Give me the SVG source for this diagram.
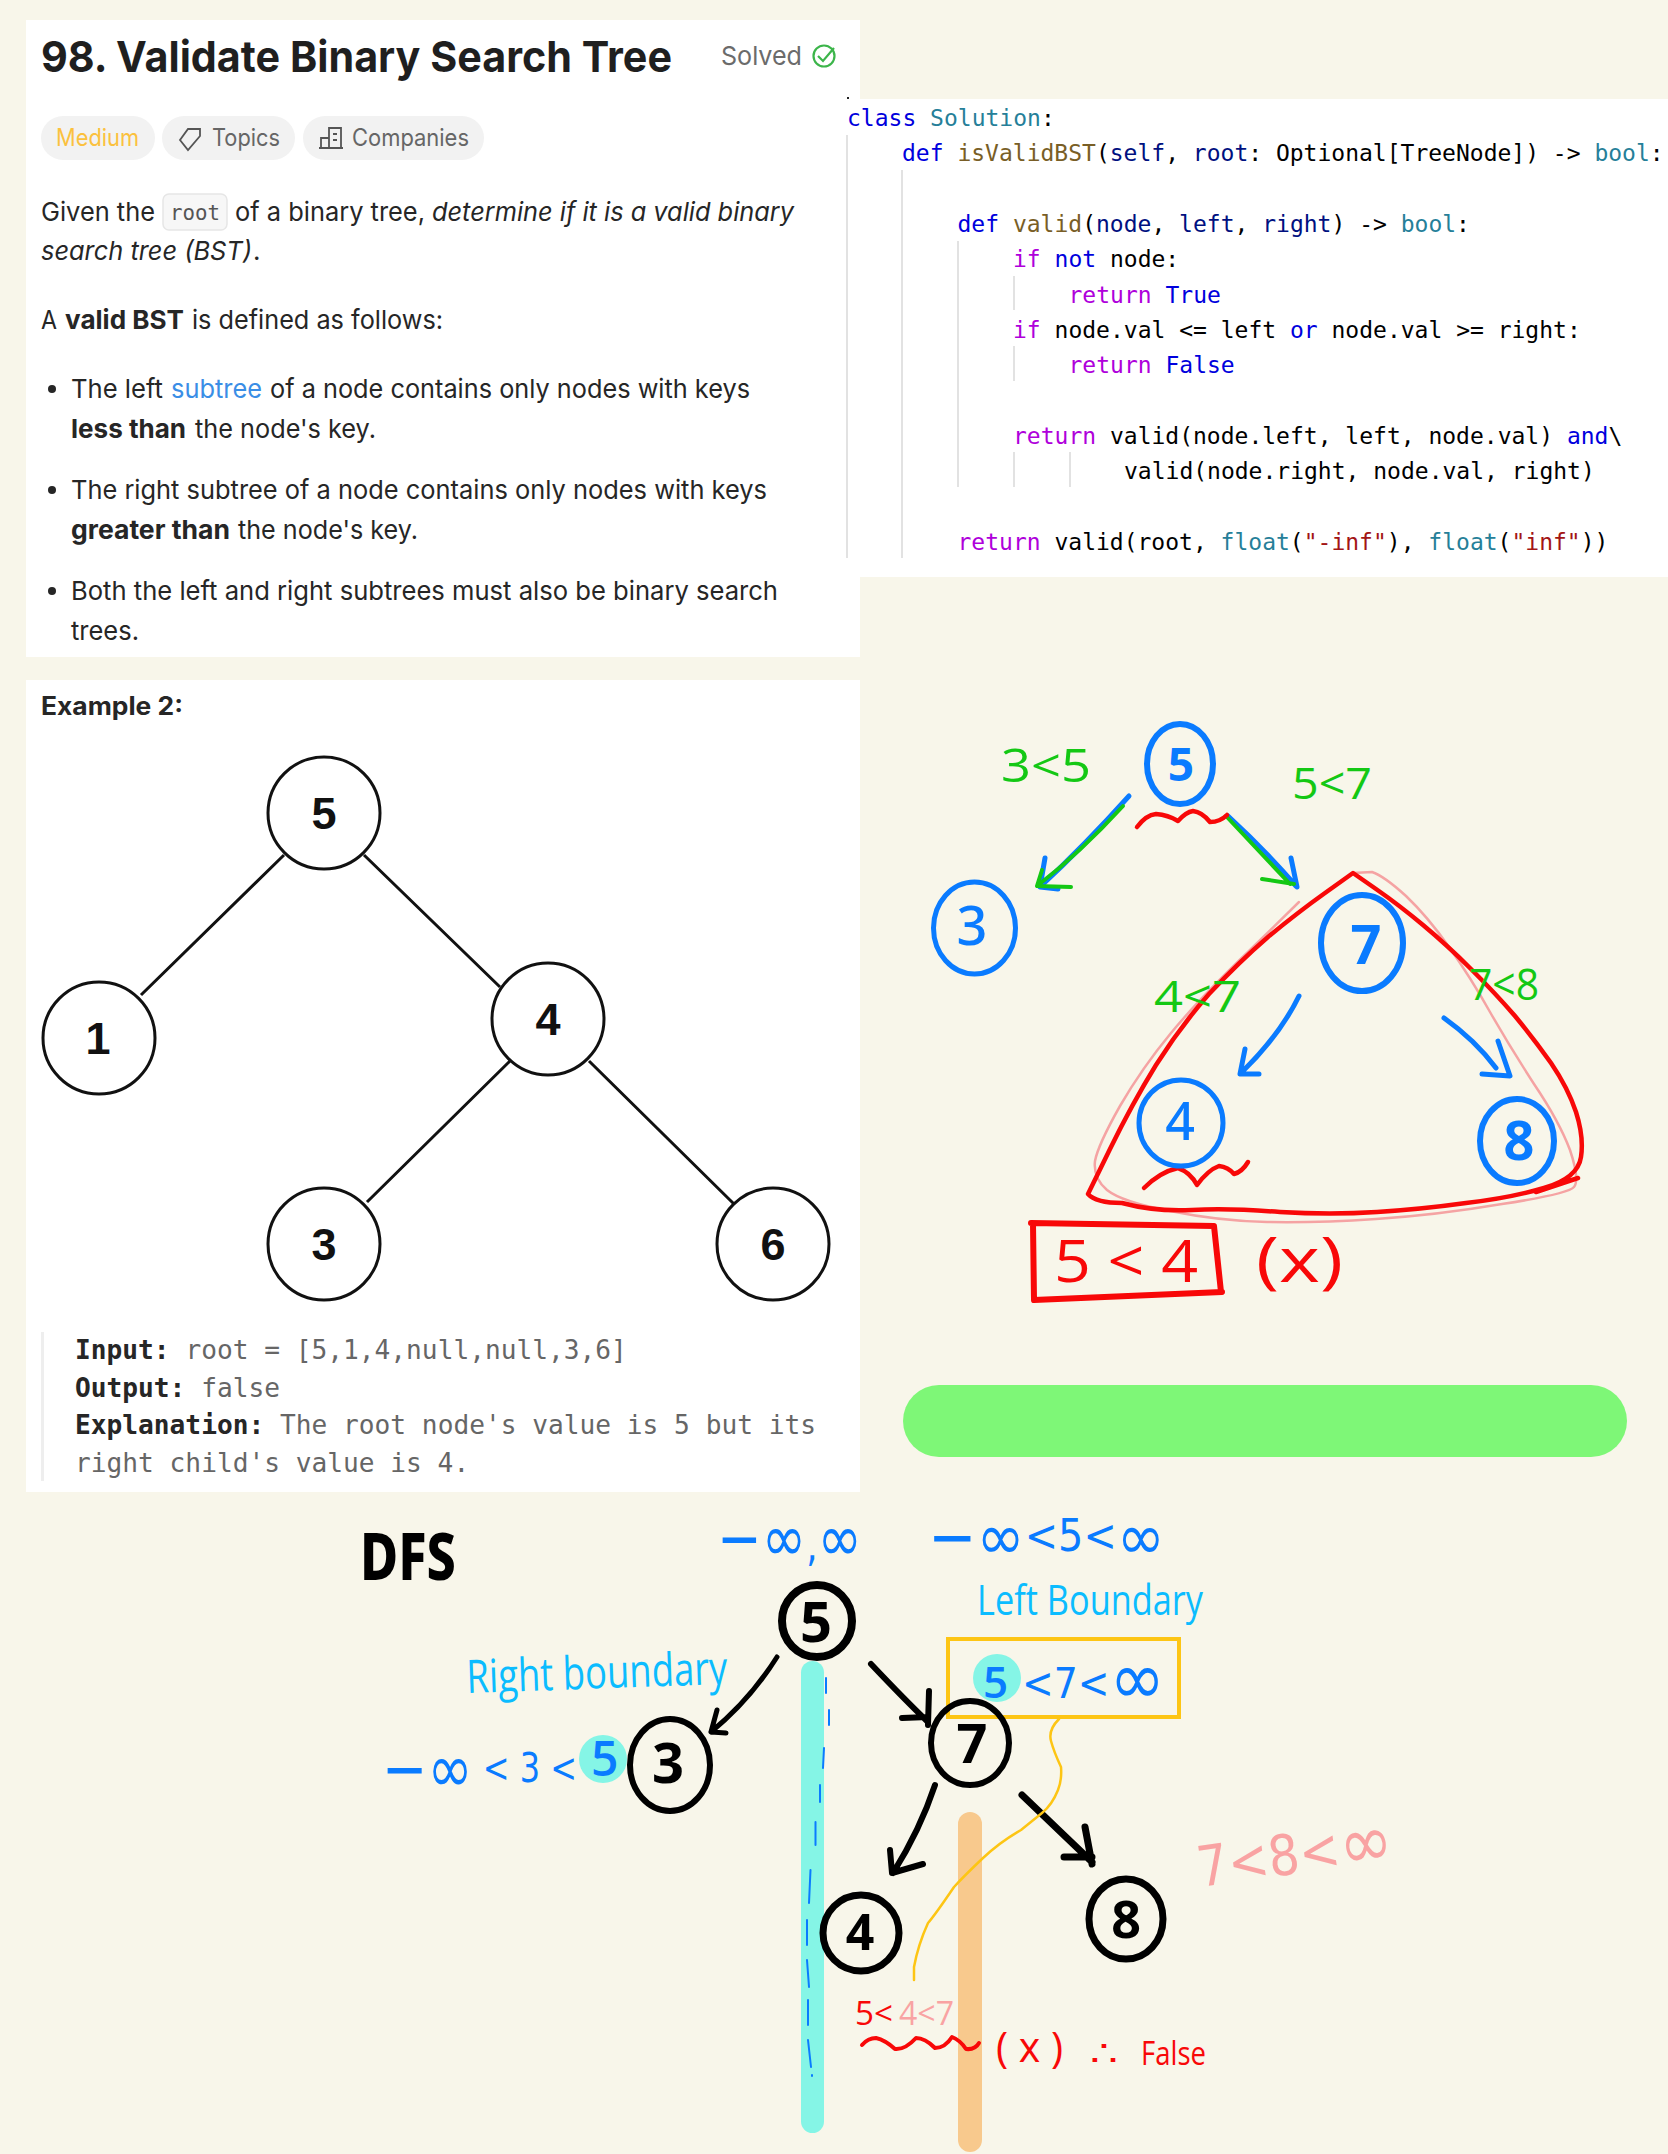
<svg xmlns="http://www.w3.org/2000/svg" width="1668" height="2154" viewBox="0 0 1668 2154">
<style>
.b{font-family:"Inter","Liberation Sans",sans-serif;font-size:26px;fill:#262626}
.bb{font-weight:700}
.i{font-style:italic}
.m{font-family:"DejaVu Sans Mono","Liberation Mono",monospace}
.ex{font-size:26.2px;fill:#666}
.exb{font-weight:700;fill:#262626}
.c{font-size:23px;fill:#000}
.k{fill:#0000dd}.t{fill:#267f99}.f{fill:#795e26}.r{fill:#af00db}.p{fill:#001080}.s{fill:#a31515}
.g{stroke:#d9d9d9;stroke-width:1.5;fill:none}
.tn{fill:#fff;stroke:#111;stroke-width:3}
.te{stroke:#111;stroke-width:3}
.tt{font-family:"Liberation Sans",sans-serif;font-weight:700;font-size:45px;fill:#111;text-anchor:middle}
.h{font-family:"Open Sans","Noto Sans",sans-serif}
.hb{font-family:"Noto Sans","Open Sans",sans-serif;font-weight:700;text-anchor:middle}
.ink{fill:none;stroke-linecap:round;stroke-linejoin:round}
.blue{stroke:#0a7bff}.green{stroke:#14c814}.red{stroke:#f80808}.black{stroke:#000}
.fb{fill:#0a7bff}.fg{fill:#14c814}.fr{fill:#f80808}.fk{fill:#000}.fc{fill:#0bbcff}.fp{fill:#f9a3a3}
</style>
<rect width="1668" height="2154" fill="#f8f6ea"/>

<g id="problem-panel">
<rect x="26" y="20" width="834" height="637" fill="#fff"/>
<text x="41" y="72" font-family="Inter,'Liberation Sans',sans-serif" font-weight="700" font-size="43" fill="#1f1f1f" textLength="631" lengthAdjust="spacingAndGlyphs">98. Validate Binary Search Tree</text>
<text x="721" y="65" font-family="Inter,'Liberation Sans',sans-serif" font-size="26" fill="#6b6b6b" textLength="81" lengthAdjust="spacingAndGlyphs">Solved</text>
<circle cx="824" cy="56" r="10.5" fill="none" stroke="#3cb54a" stroke-width="2.2"/>
<path d="M818 56l5 5 11-13" fill="none" stroke="#3cb54a" stroke-width="2.2"/>
<rect x="41" y="116" width="114" height="44" rx="22" fill="#f2f2f2"/>
<rect x="162" y="116" width="133" height="44" rx="22" fill="#f2f2f2"/>
<rect x="303" y="116" width="181" height="44" rx="22" fill="#f2f2f2"/>
<text x="56" y="146" font-family="Inter,'Liberation Sans',sans-serif" font-size="24" fill="#fbc13e" textLength="83" lengthAdjust="spacingAndGlyphs">Medium</text>
<path d="M200 129L188 129L180 140L188 150L200 136Z" fill="none" stroke="#555" stroke-width="1.8"/>
<text x="212" y="146" font-family="Inter,'Liberation Sans',sans-serif" font-size="24" fill="#666" textLength="68" lengthAdjust="spacingAndGlyphs">Topics</text>
<path d="M329 148V128H341V148M321 148V138H329M319 148H343M333 134h4M333 140h4" fill="none" stroke="#555" stroke-width="1.8"/>
<text x="352" y="146" font-family="Inter,'Liberation Sans',sans-serif" font-size="24" fill="#666" textLength="117" lengthAdjust="spacingAndGlyphs">Companies</text>
<text class="b" x="41" y="221" textLength="114" lengthAdjust="spacingAndGlyphs">Given the</text>
<rect x="163" y="194" width="64" height="36" rx="6" fill="#f7f7f7" stroke="#e6e6e6" stroke-width="1.5"/>
<text class="m" x="170" y="220" font-size="22" fill="#555" textLength="50" lengthAdjust="spacingAndGlyphs">root</text>
<text class="b" x="235" y="221" textLength="190" lengthAdjust="spacingAndGlyphs">of a binary tree,</text>
<text class="b i" x="432" y="221" textLength="362" lengthAdjust="spacingAndGlyphs">determine if it is a valid binary</text>
<text class="b i" x="41" y="260" textLength="211" lengthAdjust="spacingAndGlyphs">search tree (BST)</text>
<text class="b" x="253" y="260">.</text>
<text class="b" x="41" y="329" textLength="16" lengthAdjust="spacingAndGlyphs">A</text>
<text class="b bb" x="65" y="329" textLength="119" lengthAdjust="spacingAndGlyphs">valid BST</text>
<text class="b" x="192" y="329" textLength="251" lengthAdjust="spacingAndGlyphs">is defined as follows:</text>
<circle cx="52" cy="389" r="4" fill="#262626"/>
<text class="b" x="71" y="398" textLength="92" lengthAdjust="spacingAndGlyphs">The left</text>
<text class="b" x="171" y="398" style="fill:#3a8ee6" textLength="91" lengthAdjust="spacingAndGlyphs">subtree</text>
<text class="b" x="270" y="398" textLength="480" lengthAdjust="spacingAndGlyphs">of a node contains only nodes with keys</text>
<text class="b bb" x="71" y="438" textLength="115" lengthAdjust="spacingAndGlyphs">less than</text>
<text class="b" x="195" y="438" textLength="181" lengthAdjust="spacingAndGlyphs">the node's key.</text>
<circle cx="52" cy="490" r="4" fill="#262626"/>
<text class="b" x="71" y="499" textLength="696" lengthAdjust="spacingAndGlyphs">The right subtree of a node contains only nodes with keys</text>
<text class="b bb" x="71" y="539" textLength="159" lengthAdjust="spacingAndGlyphs">greater than</text>
<text class="b" x="238" y="539" textLength="180" lengthAdjust="spacingAndGlyphs">the node's key.</text>
<circle cx="52" cy="591" r="4" fill="#262626"/>
<text class="b" x="71" y="600" textLength="707" lengthAdjust="spacingAndGlyphs">Both the left and right subtrees must also be binary search</text>
<text class="b" x="71" y="640" textLength="68" lengthAdjust="spacingAndGlyphs">trees.</text>
</g>

<g id="code-panel">
<rect x="846" y="99" width="822" height="478" fill="#fff"/>
<rect x="847" y="97" width="2" height="2" fill="#222"/>
<path class="g" d="M847 135V558M902 170V558M958 241V487M1014 276V310M1014 346V381M1014 452V487M1070 452V487"/>
<g class="m c" xml:space="preserve">
<text x="847" y="125.5" class="m c"><tspan class="k">class</tspan> <tspan class="t">Solution</tspan>:</text>
<text x="902" y="161" class="m c"><tspan class="k">def</tspan> <tspan class="f">isValidBST</tspan>(<tspan class="p">self</tspan>, <tspan class="p">root</tspan>: Optional[TreeNode]) -&gt; <tspan class="t">bool</tspan>:</text>
<text x="957.5" y="232" class="m c"><tspan class="k">def</tspan> <tspan class="f">valid</tspan>(<tspan class="p">node</tspan>, <tspan class="p">left</tspan>, <tspan class="p">right</tspan>) -&gt; <tspan class="t">bool</tspan>:</text>
<text x="1013" y="267" class="m c"><tspan class="r">if</tspan> <tspan class="k">not</tspan> node:</text>
<text x="1068.5" y="302.5" class="m c"><tspan class="r">return</tspan> <tspan class="k">True</tspan></text>
<text x="1013" y="338" class="m c"><tspan class="r">if</tspan> node.val &lt;= left <tspan class="k">or</tspan> node.val &gt;= right:</text>
<text x="1068.5" y="373" class="m c"><tspan class="r">return</tspan> <tspan class="k">False</tspan></text>
<text x="1013" y="444" class="m c"><tspan class="r">return</tspan> valid(node.left, left, node.val) <tspan class="k">and</tspan>\</text>
<text x="1124" y="479" class="m c">valid(node.right, node.val, right)</text>
<text x="957.5" y="550" class="m c"><tspan class="r">return</tspan> valid(root, <tspan class="t">float</tspan>(<tspan class="s">"-inf"</tspan>), <tspan class="t">float</tspan>(<tspan class="s">"inf"</tspan>))</text>
</g>
</g>

<g id="example-panel">
<rect x="26" y="680" width="834" height="812" fill="#fff"/>
<text x="41" y="715" font-family="Inter,'Liberation Sans',sans-serif" font-weight="700" font-size="25" fill="#262626" textLength="142" lengthAdjust="spacingAndGlyphs">Example 2:</text>
<g id="tree-edges">
<path class="te" d="M284 855L141 995M364 855L500 987M510 1061L367 1202M589 1061L734 1204"/>
</g>
<g id="tree-5"><circle class="tn" cx="324" cy="813" r="56"/><text class="tt" x="324" y="829">5</text></g>
<g id="tree-1"><circle class="tn" cx="99" cy="1038" r="56"/><text class="tt" x="98" y="1054">1</text></g>
<g id="tree-4"><circle class="tn" cx="548" cy="1019" r="56"/><text class="tt" x="548" y="1035">4</text></g>
<g id="tree-3"><circle class="tn" cx="324" cy="1244" r="56"/><text class="tt" x="324" y="1260">3</text></g>
<g id="tree-6"><circle class="tn" cx="773" cy="1244" r="56"/><text class="tt" x="773" y="1260">6</text></g>
<rect x="41" y="1332" width="3" height="149" fill="#eee"/>
<text class="m ex" x="75" y="1359" xml:space="preserve"><tspan class="exb">Input:</tspan> root = [5,1,4,null,null,3,6]</text>
<text class="m ex" x="75" y="1397" xml:space="preserve"><tspan class="exb">Output:</tspan> false</text>
<text class="m ex" x="75" y="1434" xml:space="preserve"><tspan class="exb">Explanation:</tspan> The root node's value is 5 but its</text>
<text class="m ex" x="75" y="1472">right child's value is 4.</text>
</g>

<rect id="green-bar" x="903" y="1385" width="724" height="72" rx="36" fill="#7ef777"/>

<g id="sketch-top">
<g id="sketch-top-connectors">
<path class="ink blue" stroke-width="5" d="M1129 796Q1085 845 1041 886M1045 858L1040 887L1058 889"/>
<path class="ink green" stroke-width="4" d="M1123 806Q1080 853 1037 886M1042 870L1037 886L1071 887"/>
<path class="ink blue" stroke-width="5" d="M1228 816Q1265 850 1296 886M1291 858L1297 887"/>
<path class="ink green" stroke-width="4" d="M1226 816L1290 884M1262 879L1294 884"/>
<path class="ink blue" stroke-width="5" d="M1299 996Q1280 1035 1241 1073M1245 1049L1240 1074L1259 1074"/>
<path class="ink blue" stroke-width="5" d="M1444 1018Q1475 1040 1496 1068M1498 1041L1510 1076L1482 1074"/>
</g>
<path class="ink" stroke="#f5a3a3" stroke-width="2.5" d="M1299 902L1250 950Q1200 998 1171 1033Q1142 1068 1120 1106Q1098 1145 1095 1161Q1093 1178 1107 1190Q1122 1202 1170 1211Q1219 1221 1267 1222Q1316 1223 1376 1219Q1437 1215 1502 1204Q1568 1194 1574 1187Q1580 1180 1570 1150Q1559 1121 1534 1084Q1510 1047 1490 1012Q1471 978 1449 947Q1428 917 1406 896Q1384 876 1372 872L1353 873"/>
<path class="ink red" stroke-width="4.5" d="M1353 873L1325 893Q1297 913 1268 937Q1239 962 1209 994Q1180 1027 1156 1065Q1132 1104 1110 1149L1088 1194Q1096 1203 1122 1203Q1156 1212 1192 1210Q1229 1208 1280 1212Q1331 1215 1377 1212Q1423 1209 1466 1203Q1510 1198 1544 1188Q1578 1178 1581 1157Q1584 1137 1576 1112Q1568 1088 1551 1063Q1534 1039 1515 1016Q1496 994 1471 969Q1447 945 1423 925Q1399 905 1376 889ZM1578 1178L1536 1192"/>
<path class="ink red" stroke-width="4.5" d="M1137 827Q1146 815 1156 814Q1168 815 1178 821Q1186 812 1193 811Q1202 812 1210 822Q1220 822 1227 815"/>
<path class="ink red" stroke-width="4.5" d="M1144 1188Q1160 1172 1178 1168Q1190 1172 1197 1185Q1208 1170 1219 1166Q1228 1167 1234 1174Q1242 1172 1248 1162"/>
<g id="s1-5"><ellipse class="ink blue" stroke-width="6" cx="1180" cy="764" rx="33" ry="40"/><text class="hb fb" x="1181" y="781" font-size="46">5</text></g>
<g id="s1-3"><ellipse class="ink blue" stroke-width="5" cx="974.5" cy="928" rx="41" ry="46"/><text class="hb fb" style="font-weight:500" x="972" y="945" font-size="54">3</text></g>
<g id="s1-7"><ellipse class="ink blue" stroke-width="6" cx="1362" cy="943" rx="41" ry="48"/><text class="hb fb" x="1366" y="964" font-size="54">7</text></g>
<g id="s1-4"><ellipse class="ink blue" stroke-width="5" cx="1181" cy="1123" rx="42" ry="43"/><text class="hb fb" style="font-weight:500" x="1180" y="1140" font-size="52">4</text></g>
<g id="s1-8"><ellipse class="ink blue" stroke-width="6" cx="1517" cy="1141" rx="37" ry="42"/><text class="hb fb" x="1519" y="1160" font-size="54">8</text></g>
<text class="h fg" x="1001" y="782" font-size="46" textLength="90" lengthAdjust="spacingAndGlyphs">3&lt;5</text>
<text class="h fg" x="1292" y="799" font-size="44" textLength="80" lengthAdjust="spacingAndGlyphs">5&lt;7</text>
<text class="h fg" x="1154" y="1012" font-size="44" textLength="87" lengthAdjust="spacingAndGlyphs">4&lt;7</text>
<text class="h fg" x="1469" y="1000" font-size="44" textLength="70" lengthAdjust="spacingAndGlyphs">7&lt;8</text>
<path class="ink red" stroke-width="6" d="M1031 1223L1214 1226L1221 1292M1034 1300L1222 1292M1033 1224L1034 1300"/>
<text class="h fr" x="1054" y="1282" font-size="58" textLength="144" lengthAdjust="spacingAndGlyphs">5 &lt; 4</text>
<text class="h fr" x="1256" y="1282" font-size="62" textLength="87" lengthAdjust="spacingAndGlyphs">(x)</text>
</g>

<g id="sketch-bottom">
<rect x="801" y="1661" width="23" height="472" rx="11.5" fill="#85f5e6"/>
<rect x="958" y="1812" width="24" height="340" rx="12" fill="#f8c98d"/>
<path class="ink blue" stroke-width="2" d="M826 1678V1693M829 1710V1725M824 1748L823 1768M820 1785V1802M815.5 1822V1845M810.5 1870L809 1903M807 1920V1945M807 1960L809 1987M808 2000V2025M808 2040L811 2067M812 2075V2076"/>
<text x="360" y="1580" class="hb fk" style="text-anchor:start;font-weight:800" font-size="66" textLength="96" lengthAdjust="spacingAndGlyphs">DFS</text>
<text class="fb" x="717" y="1561" font-size="66" font-family="DejaVu Sans" textLength="145" lengthAdjust="spacingAndGlyphs">−∞<tspan font-size="44">,</tspan>∞</text>
<text class="fb" x="928" y="1559" font-size="64" font-family="DejaVu Sans" textLength="237" lengthAdjust="spacingAndGlyphs">−∞<tspan font-size="44" dy="-8">&lt;5&lt;</tspan><tspan dy="8">∞</tspan></text>
<text class="h fc" x="977" y="1615" font-size="42" textLength="226" lengthAdjust="spacingAndGlyphs">Left Boundary</text>
<text class="h fc" x="467" y="1693" font-size="46" textLength="261" lengthAdjust="spacingAndGlyphs" transform="rotate(-2 467 1693)">Right boundary</text>
<circle cx="603" cy="1759" r="24" fill="#85f5e6"/>
<text class="fb" x="382" y="1792" font-size="68" font-family="DejaVu Sans" textLength="195" lengthAdjust="spacingAndGlyphs" xml:space="preserve">−∞<tspan font-size="40" dy="-10"> &lt; 3 &lt;</tspan></text>
<text class="h fb" x="591" y="1776" font-size="48" style="font-weight:600">5</text>
<rect x="948" y="1639" width="231" height="78" fill="none" stroke="#fdc514" stroke-width="4"/>
<circle cx="997" cy="1678" r="24" fill="#85f5e6"/>
<text class="h fb" x="983" y="1698" font-size="44" style="font-weight:600">5</text>
<text class="fb" x="1022" y="1698" font-size="42" font-family="DejaVu Sans" textLength="143" lengthAdjust="spacingAndGlyphs">&lt;7&lt;<tspan font-size="74" dy="6">∞</tspan></text>
<g id="sketch-bottom-connectors">
<path class="ink black" stroke-width="5" d="M777 1657Q750 1700 711 1732M717 1710L711 1732L726 1733"/>
<path class="ink black" stroke-width="6" d="M871 1664Q905 1700 928 1722M929 1691L928 1725M902 1718L928 1717"/>
<path class="ink black" stroke-width="6" d="M935 1785Q920 1830 893 1873M890 1850L892 1873L923 1864"/>
<path class="ink black" stroke-width="7" d="M1022 1795L1092 1862M1085 1827L1092 1864M1064 1857L1092 1857"/>
</g>
<path class="ink" stroke="#fdc514" stroke-width="2.5" d="M1059 1719Q1048 1730 1051 1741T1061 1767Q1062 1780 1058 1790 1052 1805 1042 1813L1021 1830Q1000 1842 983 1858 965 1875 954 1887 935 1915 928 1923 918 1945 914 1967V1980"/>
<g id="s2-5"><ellipse class="ink black" stroke-width="8" cx="817" cy="1621" rx="35" ry="36"/><text class="hb fk" x="816" y="1642" font-size="56">5</text></g>
<g id="s2-3"><ellipse class="ink black" stroke-width="6" cx="670" cy="1765" rx="40" ry="46"/><text class="hb fk" x="668" y="1783" font-size="56">3</text></g>
<g id="s2-7"><ellipse class="ink black" stroke-width="6" cx="970" cy="1743" rx="39" ry="42"/><text class="hb fk" x="972" y="1763" font-size="54">7</text></g>
<g id="s2-4"><ellipse class="ink black" stroke-width="7" cx="861" cy="1933" rx="38" ry="38"/><text class="hb fk" x="860" y="1950" font-size="50">4</text></g>
<g id="s2-8"><ellipse class="ink black" stroke-width="7" cx="1126" cy="1919" rx="37" ry="40"/><text class="hb fk" x="1126" y="1938" font-size="52">8</text></g>
<text class="fp" x="1200" y="1887" font-size="56" font-family="DejaVu Sans" textLength="197" lengthAdjust="spacingAndGlyphs" transform="rotate(-8 1200 1887)">7&lt;8&lt;<tspan font-size="74" dy="4">∞</tspan></text>
<text class="h fr" x="855" y="2025" font-size="32" textLength="38" lengthAdjust="spacingAndGlyphs">5&lt;</text>
<text class="h fp" x="899" y="2025" font-size="32" textLength="55" lengthAdjust="spacingAndGlyphs">4&lt;7</text>
<path class="ink red" stroke-width="4" d="M862 2045Q868 2038 876 2038 885 2040 895 2049 905 2050 916 2038 925 2038 935 2048 945 2048 952 2037 960 2040 966 2049 975 2050 979 2043"/>
<text class="h fr" x="996" y="2062" font-size="42" textLength="67" lengthAdjust="spacingAndGlyphs" xml:space="preserve">( x )</text>
<text class="h fr" x="1090" y="2066" font-size="36" font-family="DejaVu Sans" textLength="28" lengthAdjust="spacingAndGlyphs">∴</text>
<text class="h fr" x="1141" y="2065" font-size="32" textLength="65" lengthAdjust="spacingAndGlyphs">False</text>
</g>
</svg>
